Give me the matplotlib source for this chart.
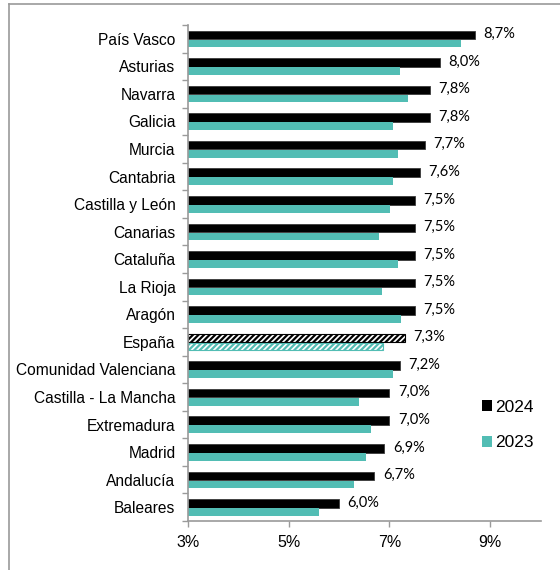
import matplotlib.pyplot as plt
import numpy as np
from matplotlib.lines import Line2D
from matplotlib.patches import Patch

plt.rcParams['font.family'] = ['Liberation Sans', 'DejaVu Sans']
plt.rcParams['hatch.linewidth'] = 1.6

regions = ["País Vasco", "Asturias", "Navarra", "Galicia", "Murcia", "Cantabria",
           "Castilla y León", "Canarias", "Cataluña", "La Rioja", "Aragón", "España",
           "Comunidad Valenciana", "Castilla - La Mancha", "Extremadura", "Madrid",
           "Andalucía", "Baleares"]
values_2024 = [8.7, 8.0, 7.8, 7.8, 7.7, 7.6, 7.5, 7.5, 7.5, 7.5, 7.5, 7.3,
               7.2, 7.0, 7.0, 6.9, 6.7, 6.0]
values_2023 = [8.43, 7.21, 7.37, 7.08, 7.17, 7.08, 7.02, 6.80, 7.17, 6.86, 7.23, 6.88,
               7.08, 6.40, 6.64, 6.54, 6.30, 5.60]
xticks = [3, 5, 7, 9]

black = "#000000"
teal = "#52BDB4"
axis_gray = "#9a9a9a"

fig = plt.figure(figsize=(5.6, 5.7), dpi=100)
ax = fig.add_axes([188 / 560, 1 - 521 / 570, 352.5 / 560, 496 / 570])

y = np.arange(len(regions))
h = 0.31
base = 3
for i, (r, v24, v23) in enumerate(zip(regions, values_2024, values_2023)):
    if r == "España":
        ax.barh(i - 0.14, v24 - base, left=base, height=h, color="white",
                edgecolor=black, hatch="//////", linewidth=0.8)
        ax.barh(i + 0.17, v23 - base, left=base, height=h * 0.9, color="white",
                edgecolor=teal, hatch="//////", linewidth=0.8)
    else:
        ax.barh(i - 0.14, v24 - base, left=base, height=h, color=black,
                edgecolor="#3a3a3a", linewidth=0.6)
        ax.barh(i + 0.17, v23 - base, left=base, height=h * 0.9, color=teal,
                linewidth=0)
    ax.text(v24 + 0.17, i - 0.17, f"{v24:.1f}%".replace(".", ","),
            va="center", ha="left", fontsize=10.5, family=["Lato", "DejaVu Sans"])

ax.set_xlim(3, 10)
ax.set_ylim(len(regions) - 0.5, -0.5)
ax.set_xticks(xticks)
ax.set_xticklabels([f"{t}%" for t in xticks], fontsize=11.5)
ax.set_yticks(y)
ax.set_yticklabels(regions, fontsize=11.2)
ax.set_yticks(np.arange(len(regions) + 1) - 0.5, minor=True)
ax.tick_params(axis="y", which="major", length=0, pad=9)
ax.tick_params(axis="y", which="minor", length=4, color=axis_gray, width=1)
ax.tick_params(axis="x", length=4, color=axis_gray, width=1, pad=6)

for s in ["top", "right"]:
    ax.spines[s].set_visible(False)
for s in ["left", "bottom"]:
    ax.spines[s].set_color(axis_gray)
    ax.spines[s].set_linewidth(1.2)

handles = [Patch(facecolor=black, label="2024"), Patch(facecolor=teal, label="2023")]
fig.legend(handles=handles, loc="upper left", bbox_to_anchor=(466 / 560, 1 - 384 / 570),
           frameon=False, fontsize=12.5, handlelength=0.6, handleheight=0.6,
           handletextpad=0.15, labelspacing=1.2)

# outer frame
fig.add_artist(Line2D([8.5 / 560, 8.5 / 560], [0, 1 - 4 / 570], color=axis_gray, lw=1.2))
fig.add_artist(Line2D([8.5 / 560, 1], [1 - 4 / 570, 1 - 4 / 570], color=axis_gray, lw=1.2))

fig.savefig("out.png", dpi=100)
